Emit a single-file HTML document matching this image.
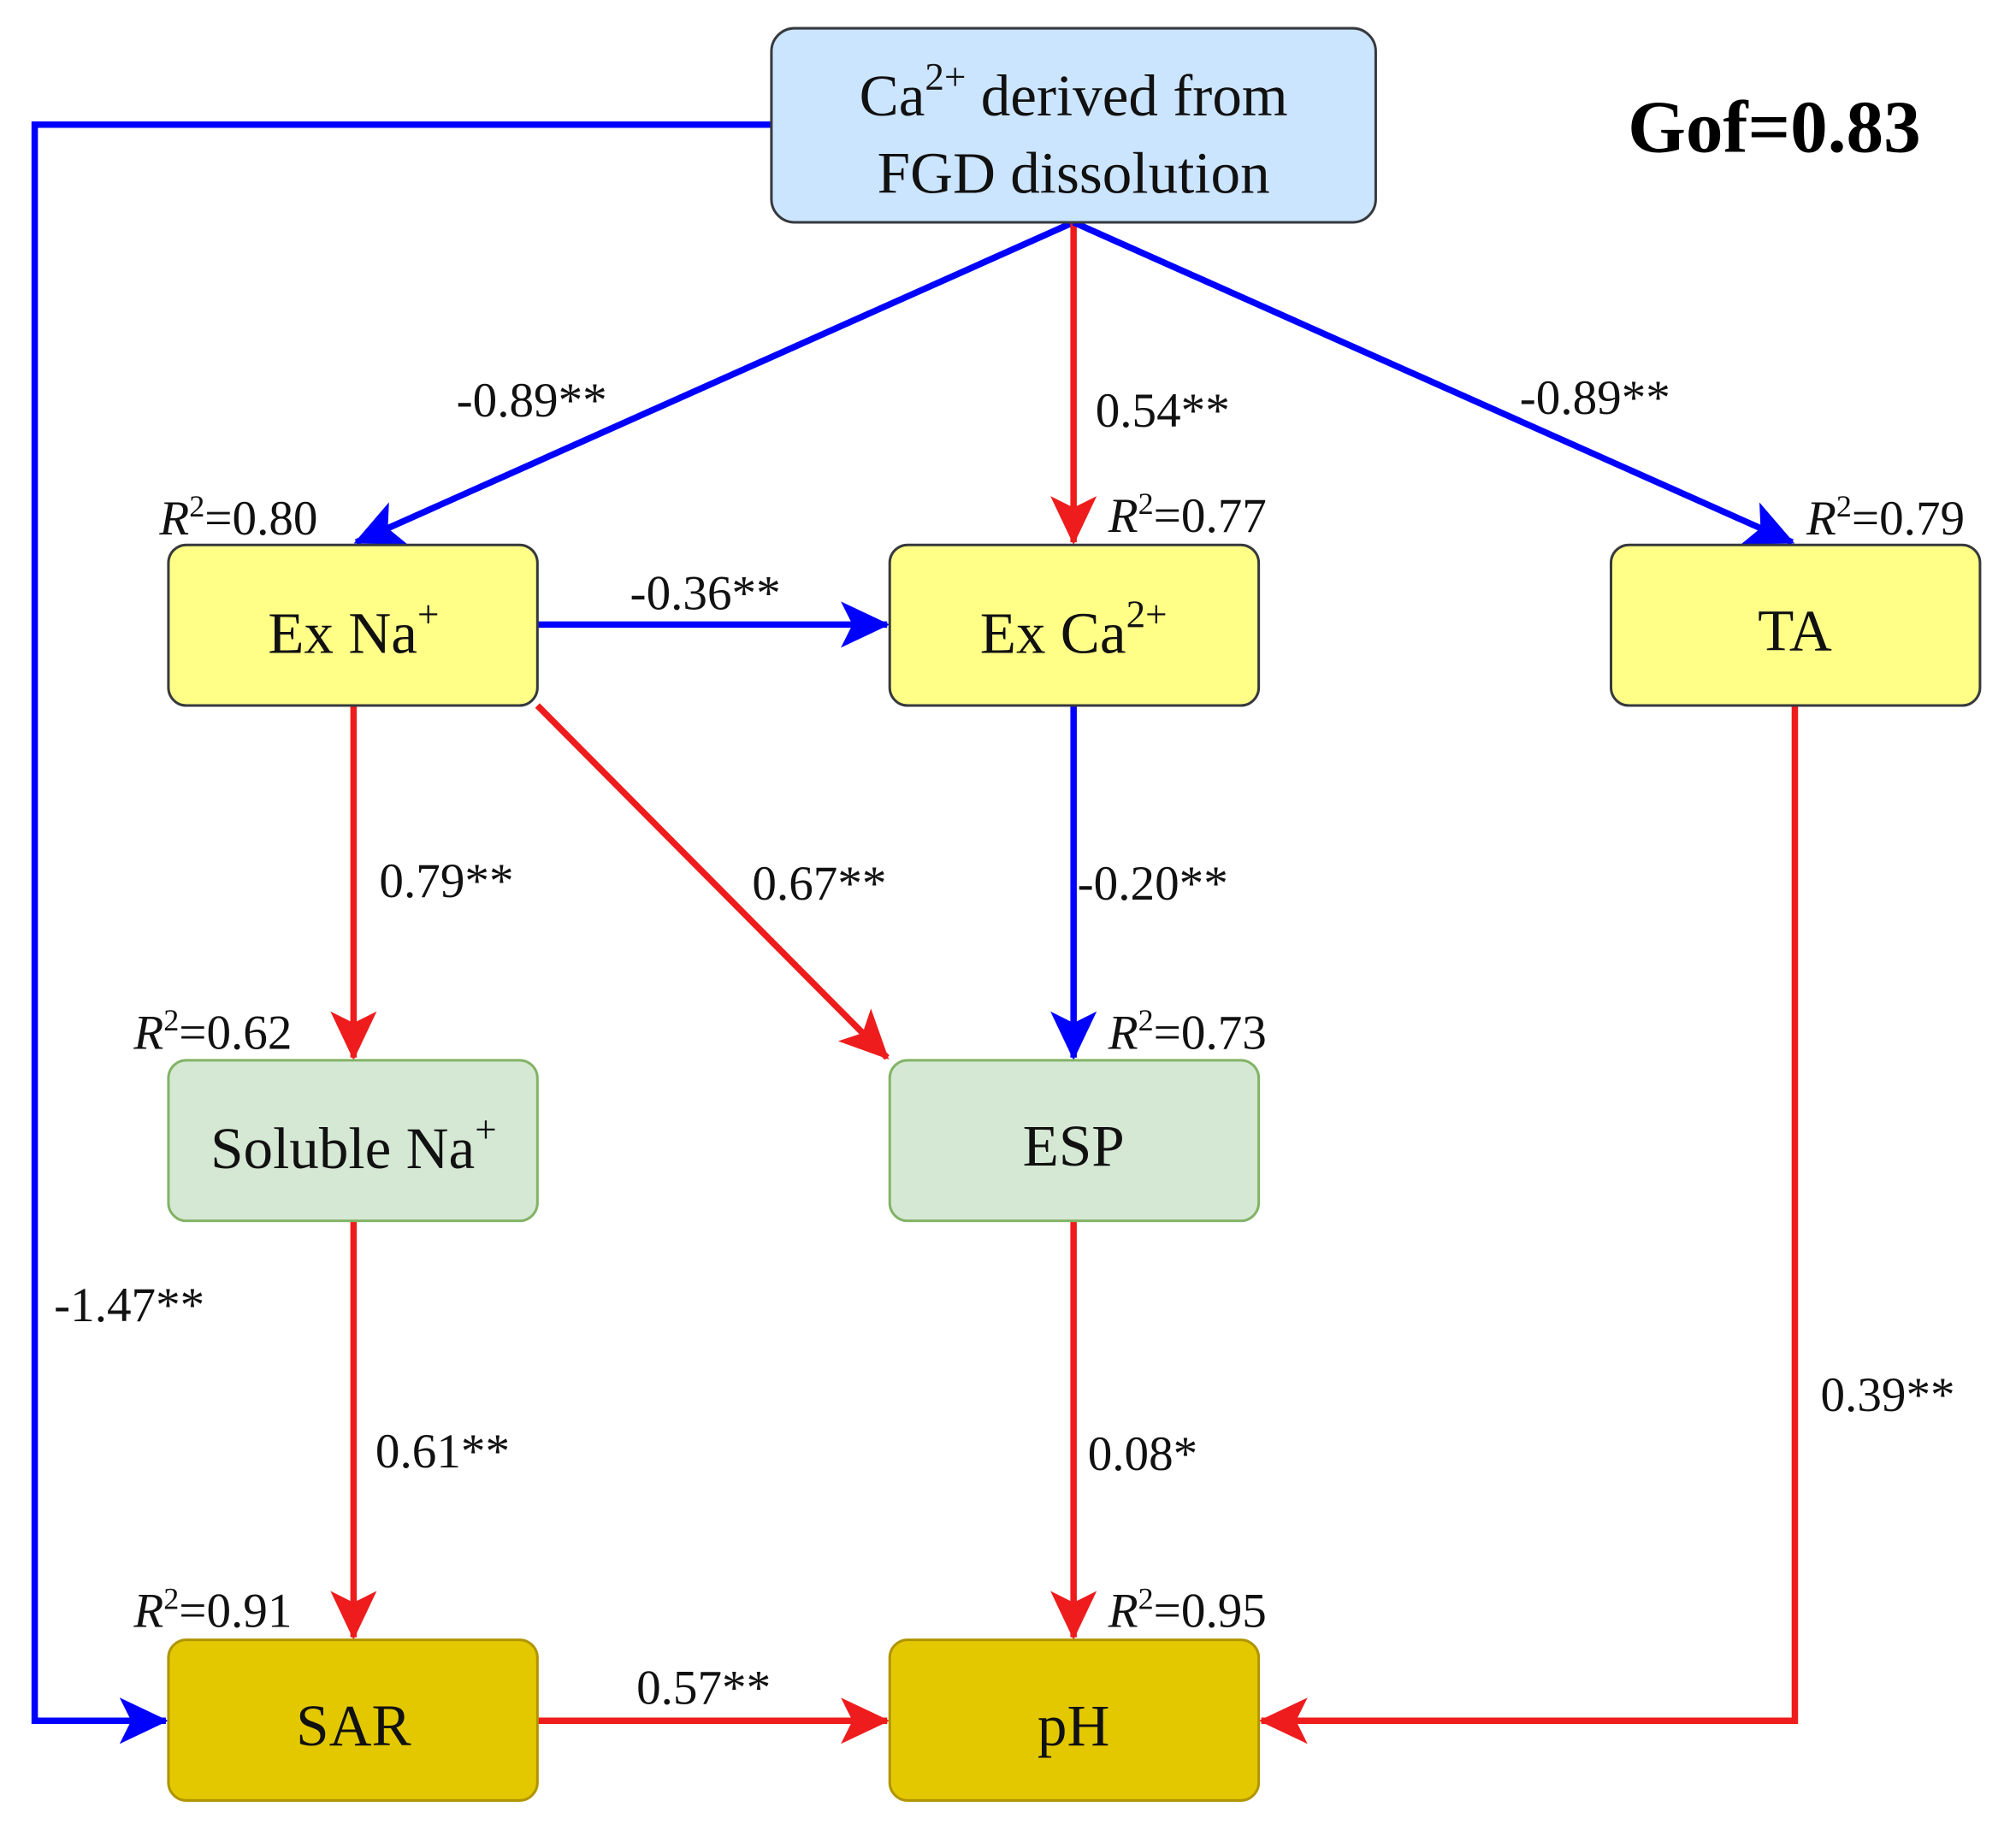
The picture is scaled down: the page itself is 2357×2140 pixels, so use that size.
<!DOCTYPE html>
<html><head><meta charset="utf-8"><style>html,body{margin:0;padding:0;background:#fff}svg{display:block}</style></head>
<body>
<svg width="2357" height="2140" viewBox="0 0 1568 1424" preserveAspectRatio="none" xmlns="http://www.w3.org/2000/svg" font-family="Liberation Serif, serif">
<defs>
<marker id="ab" markerUnits="userSpaceOnUse" markerWidth="40" markerHeight="40" viewBox="0 0 40 40" refX="36" refY="20" orient="auto"><path d="M0,2 L38,20 L0,38 L9,20 Z" fill="#0000ff"/></marker>
<marker id="ar" markerUnits="userSpaceOnUse" markerWidth="40" markerHeight="40" viewBox="0 0 40 40" refX="36" refY="20" orient="auto"><path d="M0,2 L38,20 L0,38 L9,20 Z" fill="#ee1c1c"/></marker>
</defs>
<g fill="none" stroke-width="5">
<path d="M600,97 H27 V1339 H129" stroke="#0000ff" marker-end="url(#ab)"/>
<path d="M835,173 L277,422" stroke="#0000ff" marker-end="url(#ab)"/>
<path d="M835,173 L835,422" stroke="#ee1c1c" marker-end="url(#ar)"/>
<path d="M835,173 L1394,422" stroke="#0000ff" marker-end="url(#ab)"/>
<path d="M418,486 L690,486" stroke="#0000ff" marker-end="url(#ab)"/>
<path d="M275,549 L275,823" stroke="#ee1c1c" marker-end="url(#ar)"/>
<path d="M418,549 L690,823" stroke="#ee1c1c" marker-end="url(#ar)"/>
<path d="M835,549 L835,823" stroke="#0000ff" marker-end="url(#ab)"/>
<path d="M275,950 L275,1274" stroke="#ee1c1c" marker-end="url(#ar)"/>
<path d="M835,950 L835,1274" stroke="#ee1c1c" marker-end="url(#ar)"/>
<path d="M418,1339 L690,1339" stroke="#ee1c1c" marker-end="url(#ar)"/>
<path d="M1396,549 V1339 H981" stroke="#ee1c1c" marker-end="url(#ar)"/>
</g>
<g stroke-width="2">
<rect x="600" y="22" width="470" height="151" rx="18" fill="#cce5ff" stroke="#36393d"/>
<rect x="131" y="424" width="287" height="125" rx="14" fill="#ffff88" stroke="#36393d"/>
<rect x="692" y="424" width="287" height="125" rx="14" fill="#ffff88" stroke="#36393d"/>
<rect x="1253" y="424" width="287" height="125" rx="14" fill="#ffff88" stroke="#36393d"/>
<rect x="131" y="825" width="287" height="125" rx="14" fill="#d5e8d4" stroke="#82b366"/>
<rect x="692" y="825" width="287" height="125" rx="14" fill="#d5e8d4" stroke="#82b366"/>
<rect x="131" y="1276" width="287" height="125" rx="14" fill="#e3c800" stroke="#b09500"/>
<rect x="692" y="1276" width="287" height="125" rx="14" fill="#e3c800" stroke="#b09500"/>
</g>
<g fill="#111" font-size="46" text-anchor="middle">
<text x="835" y="90">Ca<tspan font-size="30" dy="-20">2+</tspan><tspan dy="20"> derived from</tspan></text>
<text x="835" y="150">FGD dissolution</text>
<text x="275" y="508">Ex Na<tspan font-size="30" dy="-20">+</tspan></text>
<text x="835" y="508">Ex Ca<tspan font-size="30" dy="-20">2+</tspan></text>
<text x="1396" y="506">TA</text>
<text x="275" y="909">Soluble Na<tspan font-size="30" dy="-20">+</tspan></text>
<text x="835" y="907">ESP</text>
<text x="275" y="1358">SAR</text>
<text x="835" y="1358">pH</text>
</g>
<text x="1380" y="118" font-size="58" font-weight="bold" text-anchor="middle" fill="#000">Gof=0.83</text>
<g fill="#111" font-size="38">
<text x="355" y="324">-0.89**</text>
<text x="852" y="332">0.54**</text>
<text x="1182" y="322">-0.89**</text>
<text x="490" y="474">-0.36**</text>
<text x="295" y="698">0.79**</text>
<text x="585" y="700">0.67**</text>
<text x="838" y="700">-0.20**</text>
<text x="42" y="1028">-1.47**</text>
<text x="292" y="1142">0.61**</text>
<text x="846" y="1144">0.08*</text>
<text x="1416" y="1098">0.39**</text>
<text x="495" y="1326">0.57**</text>
</g>
<g fill="#111" font-size="38">
<text x="124" y="416"><tspan font-style="italic">R</tspan><tspan font-size="24" dy="-14">2</tspan><tspan dy="14">=0.80</tspan></text>
<text x="862" y="414"><tspan font-style="italic">R</tspan><tspan font-size="24" dy="-14">2</tspan><tspan dy="14">=0.77</tspan></text>
<text x="1405" y="416"><tspan font-style="italic">R</tspan><tspan font-size="24" dy="-14">2</tspan><tspan dy="14">=0.79</tspan></text>
<text x="104" y="816"><tspan font-style="italic">R</tspan><tspan font-size="24" dy="-14">2</tspan><tspan dy="14">=0.62</tspan></text>
<text x="862" y="816"><tspan font-style="italic">R</tspan><tspan font-size="24" dy="-14">2</tspan><tspan dy="14">=0.73</tspan></text>
<text x="104" y="1266"><tspan font-style="italic">R</tspan><tspan font-size="24" dy="-14">2</tspan><tspan dy="14">=0.91</tspan></text>
<text x="862" y="1266"><tspan font-style="italic">R</tspan><tspan font-size="24" dy="-14">2</tspan><tspan dy="14">=0.95</tspan></text>
</g>
</svg>
</body></html>
